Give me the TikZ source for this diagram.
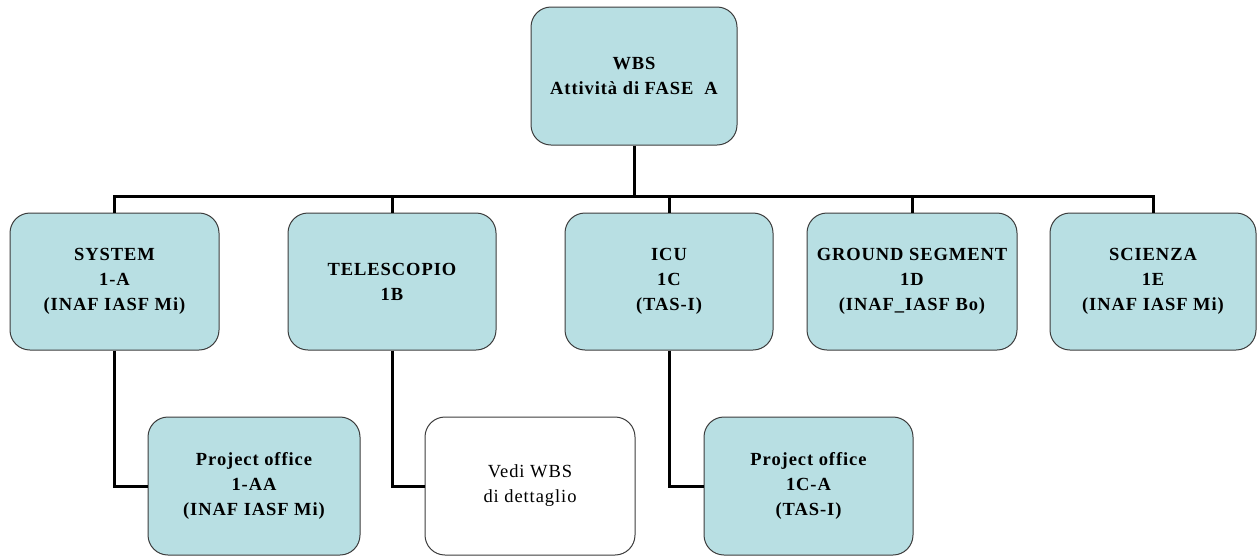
\documentclass[tikz,border=0pt]{standalone}
\usepackage{fontspec}
\setmainfont{Liberation Serif}[LetterSpace=5]
\definecolor{boxfill}{RGB}{184,223,227}
\definecolor{boxline}{RGB}{60,60,60}
\tikzset{
  wbsbox/.style={draw=boxline, line width=1pt, fill=boxfill, rounded corners=20pt,
    align=center, font=\fontsize{18.5}{25}\selectfont\bfseries, inner sep=2pt},
  plainbox/.style={wbsbox, fill=white, font=\fontsize{18.5}{25}\selectfont},
  conn/.style={draw=black, line width=3pt}
}
\begin{document}
\begin{tikzpicture}[x=1pt,y=-1pt]
\useasboundingbox (0,0) rectangle (1257,558);
\node[wbsbox, minimum width=206pt, minimum height=138pt] (top) at (634,76) {WBS\\Attività di FASE\ \ A};
\node[wbsbox, minimum width=209pt, minimum height=137pt] (sys) at (114.5,281.5) {SYSTEM\\1-A\\(INAF IASF Mi)};
\node[wbsbox, minimum width=208pt, minimum height=137pt] (tel) at (392,281.5) {TELESCOPIO\\1B};
\node[wbsbox, minimum width=208pt, minimum height=137pt] (icu) at (669,281.5) {ICU\\1C\\(TAS-I)};
\node[wbsbox, minimum width=210pt, minimum height=137pt] (gs) at (912,281.5) {GROUND SEGMENT\\1D\\(INAF\_IASF Bo)};
\node[wbsbox, minimum width=206pt, minimum height=137pt] (sci) at (1153,281.5) {SCIENZA\\1E\\(INAF IASF Mi)};
\node[wbsbox, minimum width=212pt, minimum height=138pt] (po1) at (254,486) {Project office\\1-AA\\(INAF IASF Mi)};
\node[plainbox, minimum width=210pt, minimum height=138pt] (vedi) at (530,486) {Vedi WBS\\di dettaglio};
\node[wbsbox, minimum width=209pt, minimum height=138pt] (po2) at (808.5,486) {Project office\\1C-A\\(TAS-I)};
\coordinate (bar) at (634,196);
\draw[conn] (top.south) -- (bar);
\draw[conn] (bar) -| (sys.north);
\draw[conn] (bar) -| (tel.north);
\draw[conn] (bar) -| (icu.north);
\draw[conn] (bar) -| (gs.north);
\draw[conn] (bar) -| (sci.north);
\draw[conn] (sys.south) |- (po1.west);
\draw[conn] (tel.south) |- (vedi.west);
\draw[conn] (icu.south) |- (po2.west);
\end{tikzpicture}
\end{document}
